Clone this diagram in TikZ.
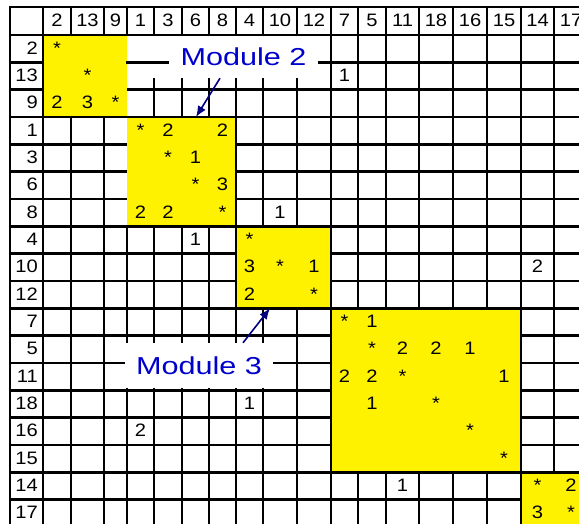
\documentclass[tikz,border=0pt]{standalone}
\usepackage{fontspec}
\setmainfont{Liberation Sans}[FakeStretch=1.12]
\newfontfamily\modfont{Liberation Sans}[FakeStretch=1.25]
\usepackage{xcolor}
\usepackage{tikz}
\usetikzlibrary{arrows.meta,positioning,calc}
\definecolor{modblue}{RGB}{0,0,204}
\definecolor{modnavy}{RGB}{0,0,128}

\begin{document}
\begin{tikzpicture}[x=1pt,y=-1pt,>=Latex,
  gridline/.style={line width=2.4pt,black,line cap=rect},
  entry/.style={anchor=base,inner sep=0pt,font=\fontsize{18}{20}\selectfont},
  rowlab/.style={anchor=base east,inner sep=0pt,font=\fontsize{18}{20}\selectfont},
  modlabel/.style={text=modblue,font=\modfont\fontsize{24.5}{26}\selectfont,inner sep=0pt},
  modarrow/.style={modnavy,line width=1.6pt,-{Latex[length=11pt,width=9pt]}}]
  \clip (0,0) rectangle (579,524);
  \fill[white] (0,0) rectangle (579,524);
  % grid
  \foreach \x in {10,43,71,104,154,182,209,236,263,297,331,358,386,419,453,487,521,554}
    \draw[gridline] (\x,7) -- (\x,530);
  \draw[gridline] (127,7) -- (127,35);
  \draw[gridline] (127,226.33) -- (127,530);
  \draw[gridline] (10,7) -- (590,7);
  \foreach \k in {0,...,18}
    \draw[gridline] (10,{35+27.333*\k}) -- (590,{35+27.333*\k});
  % modules
  \fill[yellow] (44.2,36.2) rectangle (127,115.8);
  \fill[yellow] (127,118.2) rectangle (234.8,225.13);
  \fill[yellow] (237.2,227.53) rectangle (329.8,307.13);
  \fill[yellow] (332.2,309.53) rectangle (519.8,471.13);
  \fill[yellow] (522.2,473.53) rectangle (590,530);
  % labels in the table
  \foreach \lab/\cx [count=\j] in {2/57,13/87.5,9/115.5,1/140.5,3/168,6/195.5,8/222.5,4/249.5,10/280,12/314,7/344.5,5/372,11/402.5,18/436,16/470,15/504,14/537.5,17/571}{
    \coordinate (x\j) at (\cx,0);
    \node[entry] (top\j) at (\cx,27) {\lab};
    \node[rowlab] (side\j) at (38,{35+27.333*\j-8}) {\lab};
  }
  \foreach \i/\j/\t in {1/1/*,2/2/*,2/11/1,3/1/2,3/2/3,3/3/*,
      4/4/*,4/5/2,4/7/2,5/5/*,5/6/1,6/6/*,6/7/3,7/4/2,7/5/2,7/7/*,7/9/1,
      8/6/1,8/8/*,9/8/3,9/9/*,9/10/1,9/17/2,10/8/2,10/10/*,
      11/11/*,11/12/1,12/12/*,12/13/2,12/14/2,12/15/1,13/11/2,13/12/2,13/13/*,13/16/1,
      14/8/1,14/12/1,14/14/*,15/4/2,15/15/*,16/16/*,
      17/13/1,17/17/*,17/18/2,18/17/3,18/18/*}
    \path (x\j) ++(0,{35+27.333*\i-8}) node[entry] (e\i-\j) {\t};
  % module labels
  \fill[white] (128.3,36.2) rectangle (169,78);
  \draw[gridline,line cap=butt] (126,62.33) -- (169,62.33);
  \node[modlabel,fill=white,minimum width=149pt,minimum height=41.8pt] (mod2) at (243.5,57.1) {Module 2};
  \node[modlabel,fill=white,minimum width=148pt,minimum height=45pt] (mod3) at (199,365.5) {Module 3};
  \coordinate (m2tip) at (196,117);
  \coordinate (m3tip) at (270,308.3);
  \draw[modarrow] ([xshift=-23.5pt]mod2.south) -- (m2tip);
  \draw[modarrow] ([xshift=44pt]mod3.north) -- (m3tip);
\end{tikzpicture}
\end{document}
